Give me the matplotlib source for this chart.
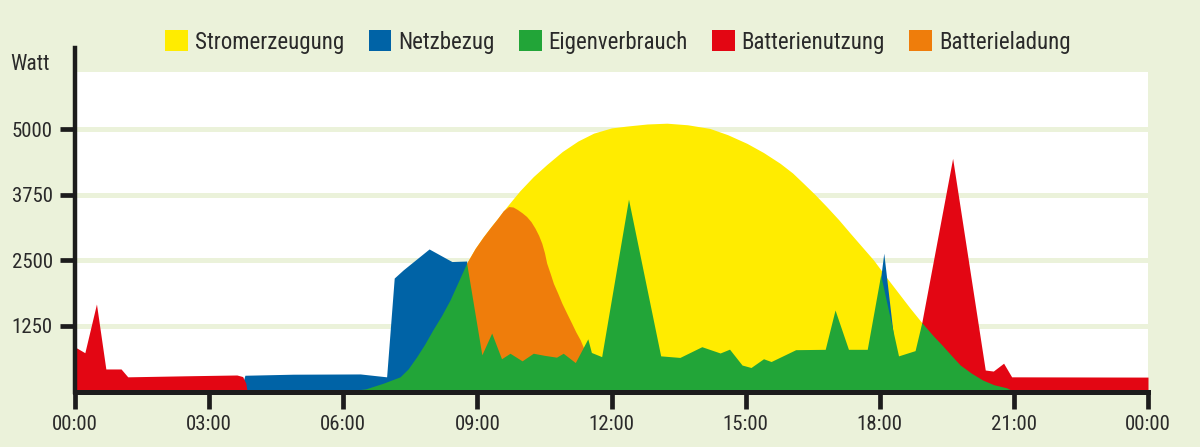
import matplotlib
matplotlib.use("Agg")
import matplotlib.pyplot as plt
from matplotlib import font_manager as fm
from matplotlib.patches import Patch

# ---------------- data (hours of day, watts) ----------------
gen_hours = [0, 6.0, 6.5, 6.9, 7.27, 7.45, 7.64, 7.82, 8.0, 8.2, 8.39, 8.57, 8.76, 8.95,
             9.13, 9.3, 9.45, 9.66, 9.95, 10.25, 10.55, 10.9, 11.25, 11.6, 12.0, 12.34,
             12.8, 13.24, 13.7, 14.2, 14.6, 15.03, 15.4, 15.77, 16.05, 16.29, 16.55,
             16.81, 17.08, 17.34, 17.6, 17.86, 18.13, 18.4, 18.67, 18.94, 19.2, 19.4,
             19.6, 19.8, 20.05, 20.3, 20.55, 20.84, 21.0, 24]
gen_watts = [0, 0, 50, 160, 280, 430, 660, 900, 1170, 1450, 1750, 2090, 2450, 2730,
             2950, 3140, 3300, 3530, 3830, 4100, 4330, 4580, 4780, 4930, 5030, 5065,
             5105, 5120, 5090, 5020, 4900, 4735, 4560, 4355, 4170, 3975, 3760,
             3530, 3280, 3020, 2765, 2510, 2200, 1900, 1600, 1315, 1060, 880,
             690, 505, 350, 220, 130, 70, 0, 0]

grid_hours = [0, 3.7, 3.8, 4.88, 6.38, 6.97, 7.14, 7.34, 7.92, 8.43, 8.76, 8.85,
              17.7, 18.09, 18.45, 24]
grid_watts = [0, 0, 310, 330, 335, 280, 2165, 2320, 2720, 2480, 2490, 0,
              0, 2640, 0, 0]

charge_hours = [0, 8.74, 8.76, 8.95, 9.13, 9.3, 9.45, 9.58, 9.7, 9.8, 9.9, 10.0, 10.1,
                10.2, 10.29, 10.37, 10.44, 10.5, 10.55, 10.63, 10.7, 10.8, 10.89, 11.0,
                11.11, 11.2, 11.3, 11.41, 11.52, 11.6, 24]
charge_watts = [0, 0, 2450, 2730, 2950, 3140, 3300, 3450, 3530, 3520, 3470, 3410, 3340,
                3240, 3115, 2980, 2830, 2650, 2450, 2250, 2065, 1870, 1685, 1490,
                1300, 1140, 985, 760, 635, 0, 0]

battery_hours = [0, 0.04, 0.22, 0.48, 0.69, 1.03, 1.18, 2.5, 3.62, 3.75, 3.82, 3.85,
                 18.79, 18.94, 19.63, 20.36, 20.54, 20.77, 20.95, 24]
battery_watts = [830, 830, 740, 1670, 430, 430, 280, 300, 315, 285, 160, 0,
                 0, 1315, 4450, 410, 390, 540, 280, 275]

self_hours = [0, 6.0, 6.5, 6.9, 7.27, 7.45, 7.64, 7.82, 8.0, 8.2, 8.39, 8.57, 8.76,
              9.1, 9.32, 9.54, 9.73, 10.0, 10.25, 10.5, 10.77, 10.92, 11.19, 11.47,
              11.55, 11.78, 12.38, 13.1, 13.53, 14.02, 14.43, 14.64, 14.92, 15.12,
              15.4, 15.57, 16.12, 16.78, 17.0, 17.3, 17.72, 18.02, 18.42, 18.79,
              18.94, 19.2, 19.4, 19.6, 19.8, 20.05, 20.3, 20.55, 20.84, 21.0, 24]
self_watts = [0, 0, 50, 160, 280, 430, 660, 900, 1170, 1450, 1750, 2090, 2450,
              700, 1115, 625, 730, 585, 730, 690, 655, 730, 552, 1005,
              745, 665, 3670, 680, 650, 855, 735, 808, 505, 458,
              625, 572, 798, 805, 1555, 805, 805, 2225, 680, 780,
              1315, 1060, 880, 690, 505, 350, 220, 130, 70, 0, 0]

series = [
    ("Stromerzeugung", gen_hours, gen_watts, "#FFEC00"),
    ("Netzbezug", grid_hours, grid_watts, "#0063A6"),
    ("Batterieladung", charge_hours, charge_watts, "#EF7D0B"),
    ("Batterienutzung", battery_hours, battery_watts, "#E30613"),
    ("Eigenverbrauch", self_hours, self_watts, "#22A538"),
]
legend_order = ["Stromerzeugung", "Netzbezug", "Eigenverbrauch",
                "Batterienutzung", "Batterieladung"]

tick_hours = [0, 3, 6, 9, 12, 15, 18, 21, 24]
tick_labels = ["00:00", "03:00", "06:00", "09:00", "12:00", "15:00",
               "18:00", "21:00", "00:00"]
y_ticks = [1250, 2500, 3750, 5000]

# ---------------- font choice ----------------
names = {f.name for f in fm.fontManager.ttflist}
fam, stretch = "Liberation Sans", "normal"
for cand in ["Roboto Condensed", "Liberation Sans Narrow", "Open Sans Condensed"]:
    if cand in names:
        fam = cand
        break
else:
    if any(f.name == "DejaVu Sans" and str(f.stretch) in ("condensed", "semi-condensed")
           for f in fm.fontManager.ttflist):
        fam, stretch = "DejaVu Sans", "condensed"
plt.rcParams["font.family"] = [fam, "DejaVu Sans"]
plt.rcParams["font.stretch"] = stretch

BG = "#EBF2DA"
TXT = "#2a2a2a"
AX = "#1c1c1c"

fig = plt.figure(figsize=(12, 4.47), dpi=100, facecolor=BG)
ax = fig.add_axes([75 / 1200, 1 - 391.5 / 447, (1148 - 75) / 1200, (391.5 - 48) / 447])
ax.set_facecolor(BG)
ax.set_xlim(0, 24)
ax.set_ylim(0, 6555)

ax.axhspan(0, 6100, xmin=0, xmax=1, color="white", zorder=0.2, lw=0)
ax.set_axisbelow(True)
ax.grid(axis="y", color=BG, lw=3.6, zorder=0.5)
ax.grid(axis="x", visible=False)

for i, (name, hx, wy, col) in enumerate(series):
    ax.fill_between(hx, 0, wy, color=col, lw=0, zorder=2 + i * 0.1, label=name)

for s in ["top", "right"]:
    ax.spines[s].set_visible(False)
ax.spines["left"].set_linewidth(3.2)
ax.spines["bottom"].set_linewidth(3.6)
ax.spines["left"].set_color(AX)
ax.spines["bottom"].set_color(AX)
ax.spines["left"].set_zorder(5)
ax.spines["bottom"].set_zorder(5)

ax.set_xticks(tick_hours)
ax.set_xticklabels(tick_labels)
ax.set_yticks(y_ticks)
ax.set_yticklabels([str(v) for v in y_ticks])
ax.tick_params(axis="x", length=12, width=3.4, color=AX, pad=5, labelsize=15, labelcolor=TXT)
ax.tick_params(axis="y", length=11, width=3.4, color=AX, pad=5, labelsize=15, labelcolor=TXT)

fig.text(30 / 1200, 1 - 65 / 447, "Watt", ha="center", va="center", fontsize=15.5, color=TXT)

colmap = {n: c for n, _, _, c in series}
handles = [Patch(facecolor=colmap[n], edgecolor="none", label=n) for n in legend_order]
leg = fig.legend(handles=handles, loc="center", bbox_to_anchor=(618 / 1200, 1 - 42 / 447),
                 ncol=5, frameon=False, fontsize=16.5, handlelength=1.0, handleheight=1.0,
                 handletextpad=0.3, columnspacing=1.05, borderpad=0, borderaxespad=0)
for t in leg.get_texts():
    t.set_color(TXT)

fig.savefig("out.png", dpi=100, facecolor=BG)
